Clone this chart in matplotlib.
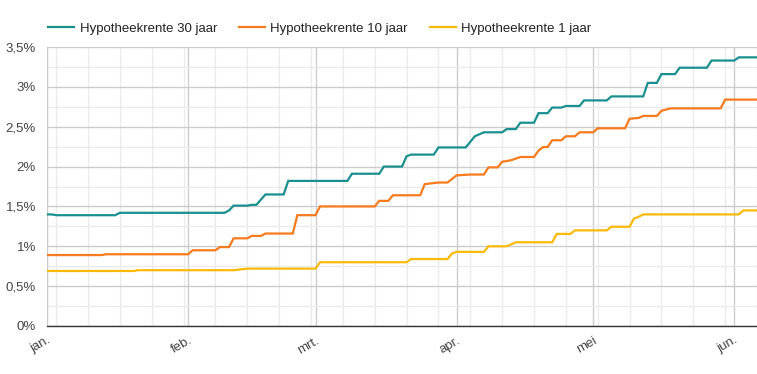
import matplotlib
matplotlib.use('Agg')
import matplotlib.pyplot as plt
import matplotlib.dates as mdates
from matplotlib.ticker import MultipleLocator, FuncFormatter
import numpy as np

# hypotheekrente 2022, knikpunten (datum, rente in %)
dates_30 = ['2022-01-01', '2022-01-02', '2022-01-03', '2022-01-16', '2022-01-17',
            '2022-02-09', '2022-02-10', '2022-02-11', '2022-02-14', '2022-02-15',
            '2022-02-16', '2022-02-18', '2022-02-22', '2022-02-23', '2022-03-08',
            '2022-03-09', '2022-03-15', '2022-03-16', '2022-03-20', '2022-03-21',
            '2022-03-22', '2022-03-27', '2022-03-28', '2022-04-03', '2022-04-05',
            '2022-04-07', '2022-04-11', '2022-04-12', '2022-04-14', '2022-04-15',
            '2022-04-18', '2022-04-19', '2022-04-21', '2022-04-22', '2022-04-24',
            '2022-04-25', '2022-04-28', '2022-04-29', '2022-05-04', '2022-05-05',
            '2022-05-12', '2022-05-13', '2022-05-15', '2022-05-16', '2022-05-19',
            '2022-05-20', '2022-05-26', '2022-05-27', '2022-06-01', '2022-06-02',
            '2022-06-06']
rente_30 = [1.40, 1.40, 1.39, 1.39, 1.42,
            1.42, 1.45, 1.51, 1.51, 1.52,
            1.52, 1.65, 1.65, 1.82, 1.82,
            1.91, 1.91, 2.00, 2.00, 2.13,
            2.15, 2.15, 2.24, 2.24, 2.38,
            2.43, 2.43, 2.47, 2.47, 2.55,
            2.55, 2.67, 2.67, 2.74, 2.74,
            2.76, 2.76, 2.83, 2.83, 2.88,
            2.88, 3.05, 3.05, 3.16, 3.16,
            3.24, 3.24, 3.33, 3.33, 3.37,
            3.37]

dates_10 = ['2022-01-01', '2022-01-13', '2022-01-14', '2022-02-01', '2022-02-02',
            '2022-02-07', '2022-02-08', '2022-02-10', '2022-02-11', '2022-02-14',
            '2022-02-15', '2022-02-17', '2022-02-18', '2022-02-24', '2022-02-25',
            '2022-03-01', '2022-03-02', '2022-03-14', '2022-03-15', '2022-03-17',
            '2022-03-18', '2022-03-24', '2022-03-25', '2022-03-28', '2022-03-30',
            '2022-04-01', '2022-04-04', '2022-04-07', '2022-04-08', '2022-04-10',
            '2022-04-11', '2022-04-13', '2022-04-15', '2022-04-18', '2022-04-19',
            '2022-04-20', '2022-04-21', '2022-04-22', '2022-04-24', '2022-04-25',
            '2022-04-27', '2022-04-28', '2022-05-01', '2022-05-02', '2022-05-08',
            '2022-05-09', '2022-05-11', '2022-05-12', '2022-05-15', '2022-05-16',
            '2022-05-18', '2022-05-29', '2022-05-30', '2022-06-06']
rente_10 = [0.89, 0.89, 0.90, 0.90, 0.95,
            0.95, 0.99, 0.99, 1.10, 1.10,
            1.13, 1.13, 1.16, 1.16, 1.39,
            1.39, 1.50, 1.50, 1.57, 1.57,
            1.64, 1.64, 1.78, 1.80, 1.80,
            1.89, 1.90, 1.90, 1.99, 1.99,
            2.06, 2.08, 2.12, 2.12, 2.20,
            2.245, 2.245, 2.33, 2.33, 2.38,
            2.38, 2.43, 2.43, 2.48, 2.48,
            2.60, 2.61, 2.635, 2.635, 2.70,
            2.73, 2.73, 2.84, 2.84]

dates_1 = ['2022-01-01', '2022-01-20', '2022-01-21', '2022-02-11', '2022-02-14',
           '2022-03-01', '2022-03-02', '2022-03-21', '2022-03-22', '2022-03-30',
           '2022-03-31', '2022-04-01', '2022-04-07', '2022-04-08', '2022-04-12',
           '2022-04-14', '2022-04-22', '2022-04-23', '2022-04-26', '2022-04-27',
           '2022-05-04', '2022-05-05', '2022-05-09', '2022-05-10', '2022-05-11',
           '2022-05-12', '2022-06-02', '2022-06-03', '2022-06-06']
rente_1 = [0.69, 0.69, 0.70, 0.70, 0.72,
           0.72, 0.80, 0.80, 0.84, 0.84,
           0.91, 0.93, 0.93, 1.00, 1.00,
           1.05, 1.05, 1.155, 1.155, 1.20,
           1.20, 1.245, 1.245, 1.35, 1.37,
           1.40, 1.40, 1.45, 1.45]

series = [
    ('Hypotheekrente 30 jaar', dates_30, rente_30, '#1a8f8f'),
    ('Hypotheekrente 10 jaar', dates_10, rente_10, '#f77a1c'),
    ('Hypotheekrente 1 jaar', dates_1, rente_1, '#fbb909'),
]
maand_labels = ['jan.', 'feb.', 'mrt.', 'apr.', 'mei', 'jun.']

plt.rcParams['font.family'] = ['Liberation Sans', 'DejaVu Sans']

fig = plt.figure(figsize=(7.57, 3.74), dpi=100)
ax = fig.add_axes([47 / 757, 48 / 374, 710 / 757, 279 / 374])

for naam, d, r, kleur in series:
    ax.plot(np.array(d, dtype='datetime64[D]'), r, color=kleur, lw=1.6,
            label=naam, solid_joinstyle='miter', zorder=3)

ax.set_xlim(np.datetime64('2022-01-01'), np.datetime64('2022-06-06'))
ax.set_ylim(0, 3.5)

# y-as
ax.yaxis.set_major_locator(MultipleLocator(0.5))
ax.yaxis.set_minor_locator(MultipleLocator(0.25))
ax.yaxis.set_major_formatter(FuncFormatter(
    lambda v, p: ('%g' % v).replace('.', ',') + '%'))

# x-as: maanden en weken (maandag)
ax.xaxis.set_major_locator(mdates.MonthLocator())
ax.xaxis.set_major_formatter(FuncFormatter(
    lambda v, p: maand_labels[mdates.num2date(v).month - 1]))
ax.xaxis.set_minor_locator(mdates.WeekdayLocator(byweekday=mdates.MO))

ax.grid(which='major', color='#cccccc', lw=1.0, zorder=0)
ax.grid(which='minor', color='#ebebeb', lw=1.0, zorder=0)
ax.set_axisbelow(True)

ax.tick_params(which='both', length=0)
ax.tick_params(axis='y', labelsize=9.5, labelcolor='#444444', pad=8)
ax.tick_params(axis='x', labelsize=9.5, labelcolor='#444444', pad=6)
for lbl in ax.get_xticklabels():
    lbl.set_rotation(30)
    lbl.set_ha('right')
    lbl.set_rotation_mode('anchor')

for s in ['top', 'right']:
    ax.spines[s].set_visible(False)
ax.spines['left'].set_color('#cccccc')
ax.spines['bottom'].set_color('#333333')
ax.spines['bottom'].set_linewidth(1.0)

leg = ax.legend(loc='lower left', bbox_to_anchor=(-0.006, 1.025), ncol=3,
                frameon=False, fontsize=9.5, handlelength=2.0,
                handletextpad=0.4, columnspacing=1.65, borderaxespad=0)
for t in leg.get_texts():
    t.set_color('#222222')

fig.savefig('out.png', dpi=100)
